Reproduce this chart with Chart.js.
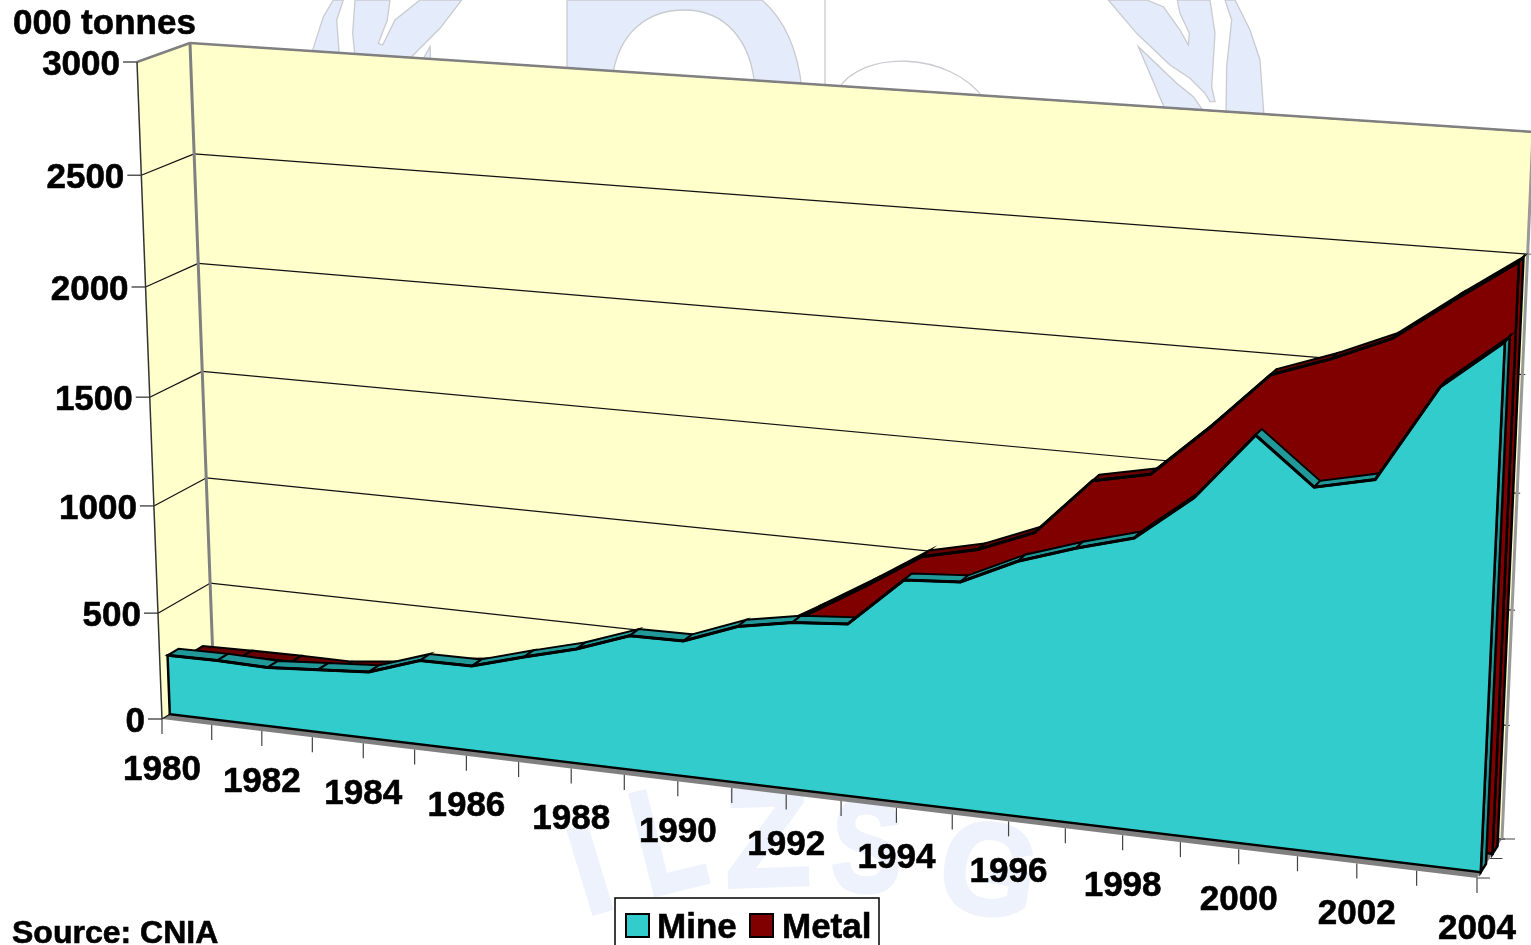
<!DOCTYPE html>
<html><head><meta charset="utf-8">
<style>html,body{margin:0;padding:0;background:#fff;overflow:hidden}canvas{display:block}</style>
<script src="https://cdn.jsdelivr.net/npm/chart.js@4/dist/chart.umd.min.js"></script>
</head><body><canvas id="c" width="1531" height="945"></canvas>
<script>
const years = [1980,1981,1982,1983,1984,1985,1986,1987,1988,1989,1990,1991,1992,1993,1994,1995,1996,1997,1998,1999,2000,2001,2002,2003,2004];
const mine = [280,283,277,294,311,391,393,462,526,613,616,708,753,772,993,1010,1126,1207,1276,1473,1761,1565,1621,2029,2233];
const metal = [225,230,233,232,260,298,330,380,430,480,530,590,730,876,1031,1088,1187,1438,1489,1714,1959,2047,2153,2335,2508];
const valueTicks = [0,500,1000,1500,2000,2500,3000];
const FONT = 'bold 35px "Liberation Sans", Arial, sans-serif';

// Perspective frame of the 3D box (unit square -> quad)
function quad(p0,p1,p2,p3){
  const dx1=p1[0]-p2[0],dx2=p3[0]-p2[0],sx=p0[0]-p1[0]+p2[0]-p3[0];
  const dy1=p1[1]-p2[1],dy2=p3[1]-p2[1],sy=p0[1]-p1[1]+p2[1]-p3[1];
  const den=dx1*dy2-dx2*dy1, g=(sx*dy2-dx2*sy)/den, h=(dx1*sy-sx*dy1)/den;
  const a=p1[0]-p0[0]+g*p1[0], b=p3[0]-p0[0]+h*p3[0], c=p0[0];
  const d=p1[1]-p0[1]+g*p1[1], e=p3[1]-p0[1]+h*p3[1], f=p0[1];
  return (u,v)=>{const w=g*u+h*v+1;return [(a*u+b*v+c)/w,(d*u+e*v+f)/w];};
}
const frontPlane = quad([162,719],[1477,878],[1510,155],[137,62]);
const backPlane  = quad([214,687],[1502,839],[1533,132],[190,43]);
function project(u,v,z){
  const f=frontPlane(u,v), b=backPlane(u,v);
  return [f[0]+(b[0]-f[0])*z, f[1]+(b[1]-f[1])*z];
}
const DEPTH = [{front:0.15,back:0.36,face:'#33CCCC',strip:'#229999',end:'#229999'},
               {front:0.62,back:0.82,face:'#800000',strip:'#660000',end:'#800000'}];

function path(ctx,pts,fill,stroke,lw){
  ctx.beginPath();
  pts.forEach((p,i)=>i?ctx.lineTo(p[0],p[1]):ctx.moveTo(p[0],p[1]));
  ctx.closePath();
  if(fill){ctx.fillStyle=fill;ctx.fill();}
  if(stroke){ctx.strokeStyle=stroke;ctx.lineWidth=lw;ctx.lineJoin='miter';ctx.stroke();}
}
function seg(ctx,a,b,col,lw){ctx.beginPath();ctx.moveTo(a[0],a[1]);ctx.lineTo(b[0],b[1]);ctx.strokeStyle=col;ctx.lineWidth=lw;ctx.stroke();}
function boldText(ctx,s,x,y){ctx.lineWidth=0.6;ctx.strokeStyle='#000';ctx.fillStyle='#000';ctx.fillText(s,x,y);ctx.strokeText(s,x,y);}

function watermark(ctx){
  const fill='#E4EBFA', edge='#C9CBD0';
  const map=(ox,oy,pts)=>pts.map(p=>[ox+p[0]/3,oy+p[1]/3]);
  const right=[
    [[55,0],[140,100],[240,195],[300,235],[345,280],[360,305],[375,305],[365,260],[375,100],[360,0],[262,0],[270,40],[298,100],[295,135],[270,90],[220,20],[170,0]],
    [[145,140],[190,245],[230,340],[345,340],[310,290],[260,250]],
    [[405,0],[425,60],[410,200],[408,345],[522,350],[510,180],[480,90],[435,0]]
  ];
  const left=[
    [[35,160],[70,50],[100,0],[130,0],[110,60],[118,165]],
    [[165,0],[158,100],[165,170],[330,175],[420,85],[485,0],[360,0],[285,60],[248,135],[235,130],[262,60],[270,0]],
    [[365,185],[390,140],[392,185]]
  ];
  right.forEach(s=>path(ctx,map(1090,0,s),fill,edge,1.3));
  left.forEach(s=>path(ctx,map(300,0,s),fill,edge,1.3));
  ctx.beginPath();ctx.moveTo(567,0);ctx.lineTo(567,80);ctx.lineTo(612,80);
  ctx.bezierCurveTo(618,30,650,10,684,10);ctx.bezierCurveTo(725,10,752,40,755,90);
  ctx.lineTo(802,90);ctx.bezierCurveTo(798,50,785,20,762,0);ctx.closePath();
  ctx.fillStyle=fill;ctx.fill();ctx.strokeStyle=edge;ctx.lineWidth=1.3;ctx.stroke();
  seg(ctx,[825,0],[825,90],edge,1.3);
  ctx.beginPath();ctx.moveTo(838,90);ctx.bezierCurveTo(860,50,950,50,985,100);ctx.stroke();
  // logo lettering
  [['I',586,916,-17,125,1],['L',648,897,-14,150,0.72],['Z',726,887,-2,140,1],['S',830,890,2,132,0.8],['G',934,905,10,130,0.95]].forEach(l=>{
    ctx.save();ctx.translate(l[1],l[2]);ctx.rotate(l[3]*Math.PI/180);ctx.scale(l[5],1);
    ctx.font='bold '+l[4]+'px "Liberation Sans", Arial, sans-serif';ctx.fillStyle='#EEF2FC';ctx.strokeStyle='#EEF2FC';ctx.lineWidth=4;ctx.textAlign='left';ctx.textBaseline='alphabetic';
    ctx.fillText(l[0],0,0);ctx.strokeText(l[0],0,0);ctx.restore();
  });
}

const box3d = {
  id:'box3d',
  afterDatasetsUpdate(chart){
    const {left,bottom,width,height}=chart.chartArea;
    chart.data.datasets.forEach((ds,k)=>{
      const meta=chart.getDatasetMeta(k), d=DEPTH[k], uv=[];
      meta.data.forEach(pt=>{
        const u=(pt.x-left)/width, v=(bottom-pt.y)/height;
        uv.push([u,v]);
        const q=project(u,v,d.front); pt.x=q[0]; pt.y=q[1];
      });
      meta.$uv=uv;
    });
  },
  beforeDraw(chart){
    const ctx=chart.ctx, xs=chart.scales.x, ys=chart.scales.y, {left,bottom,width,height}=chart.chartArea;
    const U=i=>(xs.getPixelForValue(i)-left)/width, V=val=>(bottom-ys.getPixelForValue(val))/height;
    ctx.save();
    ctx.fillStyle='#fff';ctx.fillRect(0,0,chart.width,chart.height);
    watermark(ctx);
    const wall='#FFFFCC', grey='#808080';
    path(ctx,[project(0,0,0),project(1,0,0),project(1,0,1),project(0,0,1)],grey);
    path(ctx,[project(0,0,0),project(0,1,0),project(0,1,1),project(0,0,1)],wall);
    path(ctx,[project(0,0,1),project(1,0,1),project(1,1,1),project(0,1,1)],wall);
    ctx.lineCap='butt';
    ctx.font=FONT;ctx.textBaseline='middle';ctx.textAlign='right';
    ys.ticks.forEach(t=>{
      const v=V(t.value), a=project(0,v,0), b=project(0,v,1), c=project(1,v,1);
      seg(ctx,a,b,'#111',1.2); seg(ctx,b,c,'#111',1.2);
      seg(ctx,[a[0]-14,a[1]],a,'#555',1.5);
      seg(ctx,c,[c[0]+3,c[1]],'#333',1);
      boldText(ctx,t.label,a[0]-17,a[1]+3);
    });
    seg(ctx,project(0,1,0),project(0,1,1),grey,2.5);
    seg(ctx,project(0,1,1),project(1,1,1),grey,2.5);
    seg(ctx,project(0,0,1),project(0,1,1),grey,3);
    seg(ctx,project(1,0,1),project(1,1,1),'#999',3);
    seg(ctx,project(0,0,0),project(0,1,0),'#333',1.5);
    [0,0.5,1].forEach(z=>{const p=project(1,0,z);seg(ctx,p,[p[0]+13,p[1]],'#444',1);});
    ctx.textAlign='center';
    xs.ticks.forEach(t=>{
      const p=project(U(t.value),0,0);
      seg(ctx,p,[p[0],p[1]+15],'#444',1.2);
      if(t.label!==''){boldText(ctx,t.label,p[0],p[1]+51);}
    });
    ctx.restore();
  },
  beforeDatasetDraw(chart,args){
    const ctx=chart.ctx, k=args.index, meta=args.meta, d=DEPTH[k], uv=meta.$uv, n=uv.length;
    ctx.save();
    const black='#000';
    const e=uv[n-1];
    path(ctx,[project(e[0],0,d.front),project(e[0],0,d.back),project(e[0],e[1],d.back),project(e[0],e[1],d.front)],d.end,black,2.5);
    for(let i=0;i<n-1;i++){
      const a=uv[i],b=uv[i+1];
      path(ctx,[project(a[0],a[1],d.front),project(b[0],b[1],d.front),project(b[0],b[1],d.back),project(a[0],a[1],d.back)],d.strip,black,2);
    }
    const face=[project(uv[0][0],0,d.front)];
    uv.forEach(p=>face.push(project(p[0],p[1],d.front)));
    face.push(project(e[0],0,d.front));
    path(ctx,face,d.face,black,2.5);
    ctx.restore();
  },
  afterDraw(chart){
    const ctx=chart.ctx;
    ctx.save();
    ctx.textBaseline='alphabetic';ctx.textAlign='left';
    ctx.font=FONT;boldText(ctx,'000 tonnes',13,34);
    ctx.font='bold 32px "Liberation Sans", Arial, sans-serif';boldText(ctx,'Source: CNIA',12,943);
    ctx.fillStyle='#fff';ctx.fillRect(615,898,264,60);
    ctx.strokeStyle='#000';ctx.lineWidth=1.5;ctx.strokeRect(615,898,264,60);
    chart.data.datasets.forEach((ds,k)=>{
      const x=[626,750][k];
      ctx.fillStyle=DEPTH[k].face;ctx.fillRect(x,914,23,23);
      ctx.strokeStyle='#000';ctx.lineWidth=2;ctx.strokeRect(x,914,23,23);
      ctx.font=FONT;boldText(ctx,ds.label,[657,782][k],938);
    });
    ctx.restore();
  }
};

new Chart(document.getElementById('c'),{
  type:'line',
  data:{labels:years,datasets:[
    {label:'Mine',data:mine,borderColor:'#000',borderWidth:3,pointRadius:0,tension:0,fill:false,backgroundColor:'#33CCCC'},
    {label:'Metal',data:metal,borderColor:'#000',borderWidth:3,pointRadius:0,tension:0,fill:false,backgroundColor:'#800000'}
  ]},
  options:{
    responsive:false,animation:false,events:[],
    layout:{padding:0},
    plugins:{legend:{display:false},title:{display:false},tooltip:{enabled:false}},
    scales:{
      x:{display:false,offset:false,ticks:{autoSkip:false,callback(v,i){return i%2===0?years[i]:'';}}},
      y:{display:false,min:0,max:3000,afterBuildTicks(s){s.ticks=valueTicks.map(v=>({value:v}));},ticks:{callback:v=>String(v)}}
    }
  },
  plugins:[box3d]
});
</script></body></html>
